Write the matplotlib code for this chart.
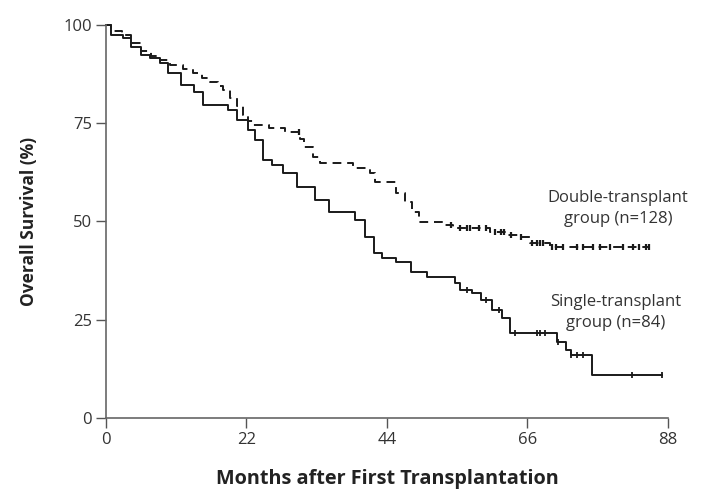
import numpy as np
import matplotlib
matplotlib.use('Agg')
import matplotlib.pyplot as plt

plt.rcParams['font.family'] = ['Open Sans', 'DejaVu Sans']

# Kaplan-Meier steps: (month of drop, survival % after the drop)
single_t = [0, 0.8, 2.7, 4.0, 5.5, 6.9, 8.5, 9.8, 11.8, 13.8, 15.2, 19.1, 20.5, 22.2,
            23.4, 24.6, 26.0, 27.8, 30.0, 32.8, 35.0, 39.0, 40.5, 42.0, 43.2, 45.5,
            47.8, 50.3, 54.6, 55.4, 57.3, 58.8, 60.4, 62.0, 63.3, 70.6, 72.0, 72.8,
            76.1, 87.1]
single_s = [100, 97.5, 96.7, 94.4, 92.4, 91.6, 90.3, 87.8, 84.7, 83.0, 79.6, 78.4, 75.8,
            73.3, 70.7, 65.6, 64.4, 62.3, 58.8, 55.5, 52.4, 50.4, 46.1, 42.0, 40.7, 39.7,
            37.2, 35.9, 34.4, 32.6, 31.8, 30.0, 27.5, 25.4, 21.6, 19.3, 17.3, 16.0,
            10.9, 10.9]
single_cens = [56.5, 59.5, 61.5, 64.0, 67.5, 68.0, 68.7, 70.8, 72.9, 73.8, 74.7, 82.4, 87.1]

double_t = [0, 0.8, 2.5, 4.0, 5.5, 7.0, 8.5, 10.0, 12.0, 13.6, 15.0, 16.3, 17.5, 18.3,
            19.5, 20.5, 21.5, 22.3, 23.0, 25.5, 28.0, 30.4, 31.0, 32.5, 33.5, 38.7,
            41.3, 42.2, 45.4, 46.8, 47.9, 49.0, 53.0, 54.3, 60.1, 62.8, 64.8, 66.4,
            69.5, 85.2]
double_s = [100, 98.5, 97.5, 95.5, 93.5, 92.0, 91.0, 89.8, 88.8, 87.8, 86.5, 85.5, 84.5,
            83.5, 81.5, 79.5, 77.0, 75.5, 74.5, 73.8, 72.8, 71.0, 69.0, 66.4, 64.9, 63.6,
            62.3, 60.1, 57.3, 55.0, 52.4, 49.9, 49.1, 48.3, 47.3, 46.6, 46.1, 44.5,
            43.5, 43.5]
double_cens = [30.2, 54.0, 55.5, 56.5, 57.0, 58.5, 59.5, 61.0, 61.8, 62.3, 63.5, 65.0,
               66.8, 67.5, 68.0, 68.5, 69.8, 70.5, 71.5, 73.8, 74.7, 76.3, 77.3, 78.9,
               81.0, 82.5, 83.5, 84.5, 85.0]

x_ticks = [0, 22, 44, 66, 88]
y_ticks = [0, 25, 50, 75, 100]


def level_at(times, surv, when):
    idx = np.searchsorted(times, when, side='right') - 1
    return np.asarray(surv)[idx]


fig = plt.figure(figsize=(7.06, 4.90), dpi=100)
ax = fig.add_axes([0.150, 0.147, 0.796, 0.802])

ink = '#1a1a1a'
ax.step(single_t, single_s, where='post', color=ink, lw=1.4, clip_on=False)
ax.step(double_t, double_s, where='post', color=ink, lw=1.4,
        linestyle=(0, (4.5, 3)), clip_on=False)

ax.plot(single_cens, level_at(single_t, single_s, single_cens), linestyle='none',
        marker='|', ms=5, mew=1.3, color=ink, clip_on=False)
ax.plot(double_cens, level_at(double_t, double_s, double_cens), linestyle='none',
        marker='|', ms=5, mew=1.6, color=ink, clip_on=False)

ax.text(80.2, 53.3, 'Double-transplant\ngroup (n=128)', ha='center', va='center',
        fontsize=12, color='#333333', linespacing=1.45)
ax.text(79.8, 26.8, 'Single-transplant\ngroup (n=84)', ha='center', va='center',
        fontsize=12, color='#333333', linespacing=1.45)

ax.set_xlim(0, 88)
ax.set_ylim(0, 100)
ax.set_xticks(x_ticks)
ax.set_yticks(y_ticks)
ax.tick_params(direction='out', length=7, width=1, colors='#555555',
               labelcolor='#333333', labelsize=12, pad=3)
for side in ('top', 'right'):
    ax.spines[side].set_visible(False)
for side in ('left', 'bottom'):
    ax.spines[side].set_color('#666666')
    ax.spines[side].set_linewidth(1.2)

ax.set_xlabel('Months after First Transplantation', fontsize=14.3, fontweight='bold',
              color='#222222', labelpad=15)
ax.set_ylabel('Overall Survival (%)', fontsize=12.5, fontweight='bold',
              color='#222222', labelpad=18)

fig.savefig('out.png', dpi=100)
